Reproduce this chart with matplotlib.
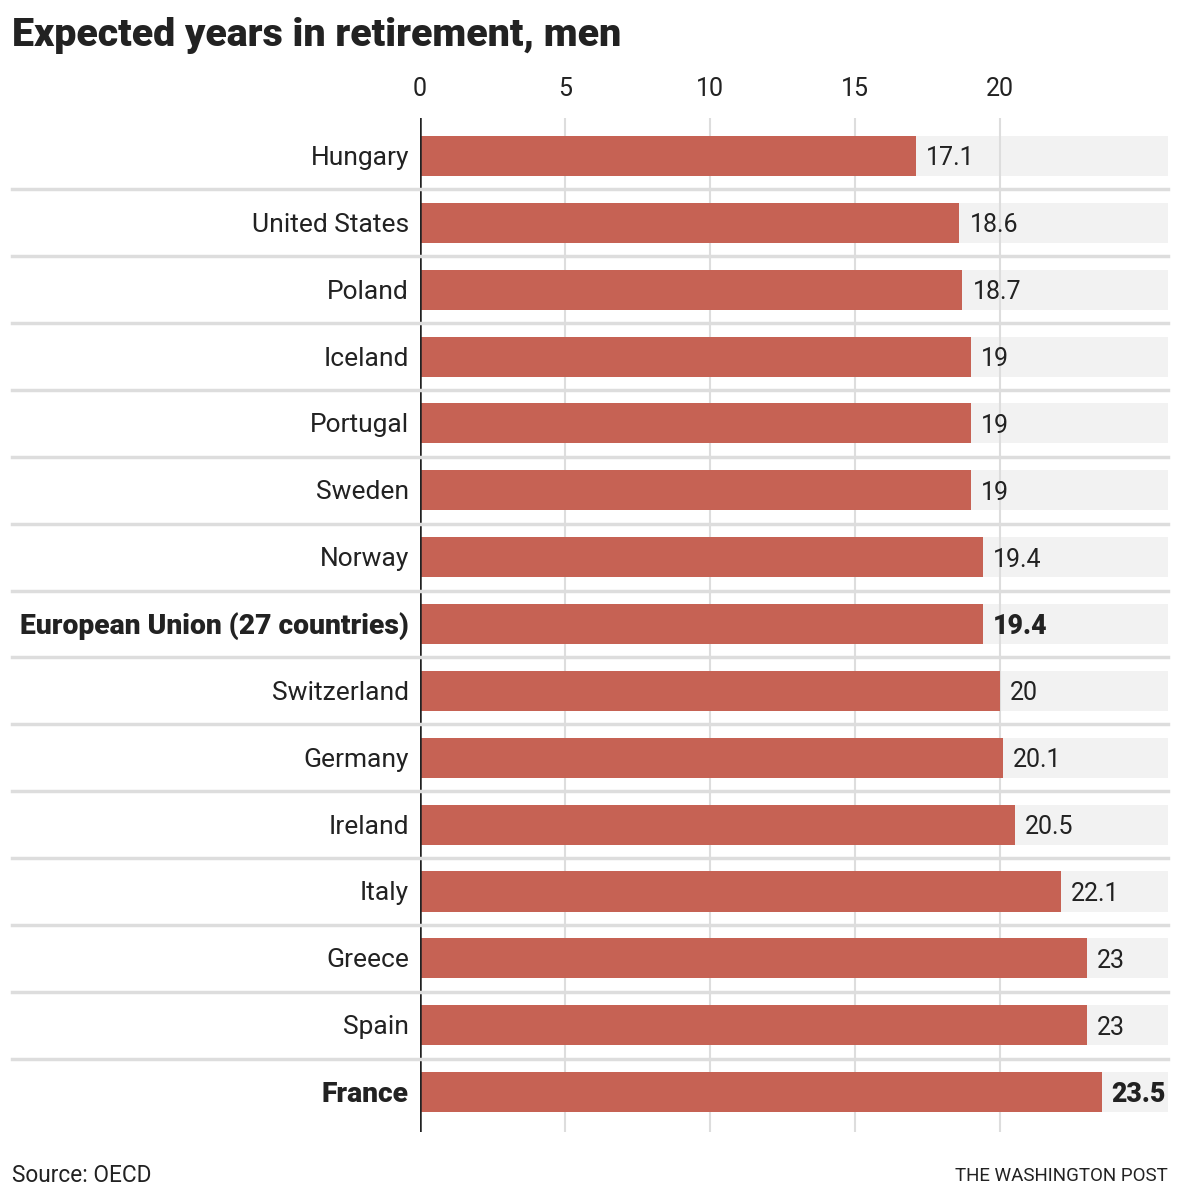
import matplotlib.pyplot as plt

# data
countries = ['Hungary', 'United States', 'Poland', 'Iceland', 'Portugal', 'Sweden', 'Norway',
             'European Union (27 countries)', 'Switzerland', 'Germany', 'Ireland', 'Italy',
             'Greece', 'Spain', 'France']
years = [17.1, 18.6, 18.7, 19, 19, 19, 19.4, 19.4, 20, 20.1, 20.5, 22.1, 23, 23, 23.5]
labels = ['17.1', '18.6', '18.7', '19', '19', '19', '19.4', '19.4', '20', '20.1', '20.5',
          '22.1', '23', '23', '23.5']
highlight = ['European Union (27 countries)', 'France']
ticks = [0, 5, 10, 15, 20]

body = ['Roboto', 'DejaVu Sans']

bar_c = '#c66254'
bg_c = '#f2f2f2'
grid_c = '#dddddd'
txt_c = '#222222'

W, H = 1180, 1202
fig = plt.figure(figsize=(W / 100, H / 100), dpi=100)

left, right, top, bottom = 420, 1168, 118, 1132
ax = fig.add_axes([left / W, 1 - bottom / H, (right - left) / W, (bottom - top) / H])
xmax = (right - left) / 29.0
row = 66.86
ax.set_xlim(0, xmax)
ax.set_ylim((bottom - 156) / row, (top - 156) / row)

n = len(countries)
pos = list(range(n))
ax.barh(pos, [xmax] * n, height=0.6, color=bg_c, zorder=0)
for t in ticks:
    ax.axvline(t, color=grid_c, lw=1.5, zorder=1)
ax.barh(pos, years, height=0.6, color=bar_c, zorder=2)
ax.axvline(0, color=txt_c, lw=1.8, zorder=3)

for i, (c, v, lab) in enumerate(zip(countries, years, labels)):
    bold = c in highlight
    ax.text(v + 0.35, i + 0.035, lab, va='center', ha='left', fontsize=19.3 if bold else 18,
            color=txt_c, family=body, weight='black' if bold else 'normal', zorder=4)
    fig.text((left - 11) / W, 1 - (158 + i * row) / H, c, va='center', ha='right',
             fontsize=20.3 if bold else 19, color=txt_c, family=body,
             weight='black' if bold else 'normal')
    if i > 0:
        yy = 1 - (156 + (i - 0.5) * row) / H
        fig.add_artist(plt.Line2D([12 / W, right / W], [yy, yy], color=grid_c, lw=2.5,
                                  zorder=1))

ax.set_yticks([])
ax.xaxis.tick_top()
ax.set_xticks(ticks)
ax.set_xticklabels([str(t) for t in ticks], family=body, fontsize=18, color=txt_c)
ax.tick_params(axis='x', length=0, pad=12)
for s in ax.spines.values():
    s.set_visible(False)

fig.text(12 / W, 1 - 35 / H, 'Expected years in retirement, men', fontsize=28.4,
         weight='black', family=body, color=txt_c, va='center', ha='left')
fig.text(12 / W, 1 - 1176 / H, 'Source: OECD', fontsize=16.3, family=body, color=txt_c,
         va='center', ha='left')
fig.text(1168 / W, 1 - 1176 / H, 'THE WASHINGTON POST', fontsize=13.5, family=body,
         color=txt_c, va='center', ha='right')

fig.savefig('out.png', dpi=100)
